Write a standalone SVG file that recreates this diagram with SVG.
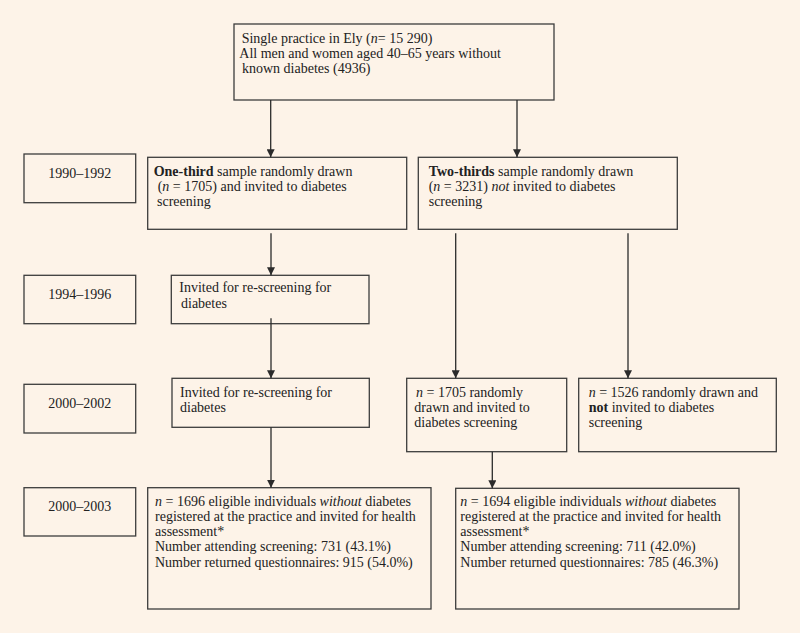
<svg xmlns="http://www.w3.org/2000/svg" width="800" height="633" viewBox="0 0 800 633">
<defs>
<marker id="ah" markerUnits="userSpaceOnUse" markerWidth="8" markerHeight="8" refX="8" refY="4" orient="auto">
<path d="M0,0 L8,4 L0,8 Z" fill="#2b2b2b"/>
</marker>
<style>
.box{fill:#fdf3e8;stroke:#3c3c3c;stroke-width:1.3}
.t{font-family:"Liberation Serif","Times New Roman",serif;font-size:14px;fill:#222}
.c{text-anchor:middle}
.conn line{stroke:#2b2b2b;stroke-width:1.3;marker-end:url(#ah)}
</style>
</defs>
<rect x="0" y="0" width="800" height="633" fill="#fdf3e8"/>

<g id="n-top">
<rect class="box" x="234" y="24" width="320" height="76"/>
<text class="t" x="241.7" y="43"><tspan>Single practice in Ely (</tspan><tspan font-style="italic">n</tspan><tspan>= 15 290)</tspan></text>
<text class="t" x="239.3" y="58">All men and women aged 40–65 years without</text>
<text class="t" x="242" y="73">known diabetes (4936)</text>
</g>

<g id="y-1990">
<rect class="box" x="24" y="154" width="111.7" height="48.7"/>
<text class="t c" x="79.8" y="177.5">1990–1992</text>
</g>

<g id="n-onethird">
<rect class="box" x="147.7" y="157.3" width="259" height="72"/>
<text class="t" x="153.7" y="175.7"><tspan font-weight="bold">One-third</tspan><tspan> sample randomly drawn</tspan></text>
<text class="t" x="157.7" y="190.7"><tspan>(</tspan><tspan font-style="italic">n</tspan><tspan> = 1705) and invited to diabetes</tspan></text>
<text class="t" x="157" y="205.7">screening</text>
</g>

<g id="n-twothirds">
<rect class="box" x="418.3" y="157.3" width="259" height="72"/>
<text class="t" x="428.7" y="175.7"><tspan font-weight="bold">Two-thirds</tspan><tspan> sample randomly drawn</tspan></text>
<text class="t" x="428.7" y="190.7"><tspan>(</tspan><tspan font-style="italic">n</tspan><tspan> = 3231) </tspan><tspan font-style="italic">not</tspan><tspan> invited to diabetes</tspan></text>
<text class="t" x="428.7" y="205.7">screening</text>
</g>

<g id="y-1994">
<rect class="box" x="24" y="275.3" width="111.7" height="48.4"/>
<text class="t c" x="79.8" y="298.7">1994–1996</text>
</g>

<g id="n-rescreen1">
<rect class="box" x="171.3" y="275.3" width="197.7" height="48.4"/>
<text class="t" x="179.3" y="292.3">Invited for re-screening for</text>
<text class="t" x="181" y="307.7">diabetes</text>
</g>

<g id="y-2000a">
<rect class="box" x="24" y="384.3" width="111.7" height="48.7"/>
<text class="t c" x="79.8" y="407.7">2000–2002</text>
</g>

<g id="n-rescreen2">
<rect class="box" x="172" y="378.3" width="197.3" height="49"/>
<text class="t" x="180" y="396.7">Invited for re-screening for</text>
<text class="t" x="180" y="411.7">diabetes</text>
</g>

<g id="n-1705">
<rect class="box" x="406.7" y="378.3" width="160" height="73.4"/>
<text class="t" x="416" y="396.7"><tspan font-style="italic">n</tspan><tspan> = 1705 randomly</tspan></text>
<text class="t" x="414.3" y="411.7">drawn and invited to</text>
<text class="t" x="414.3" y="426.7">diabetes screening</text>
</g>

<g id="n-1526">
<rect class="box" x="578.7" y="378.3" width="197.6" height="73.4"/>
<text class="t" x="588.7" y="396.7"><tspan font-style="italic">n</tspan><tspan> = 1526 randomly drawn and</tspan></text>
<text class="t" x="588.7" y="411.7"><tspan font-weight="bold">not</tspan><tspan> invited to diabetes</tspan></text>
<text class="t" x="588.7" y="426.7">screening</text>
</g>

<g id="y-2000b">
<rect class="box" x="24" y="487.7" width="111.7" height="48.3"/>
<text class="t c" x="79.8" y="510.7">2000–2003</text>
</g>

<g id="n-1696">
<rect class="box" x="147.7" y="487.7" width="283.3" height="121.3"/>
<text class="t" x="155" y="505.7"><tspan font-style="italic">n</tspan><tspan> = 1696 eligible individuals </tspan><tspan font-style="italic">without</tspan><tspan> diabetes</tspan></text>
<text class="t" x="155" y="520.7">registered at the practice and invited for health</text>
<text class="t" x="155" y="535.9">assessment*</text>
<text class="t" x="155" y="551.2">Number attending screening: 731 (43.1%)</text>
<text class="t" x="155" y="566.5">Number returned questionnaires: 915 (54.0%)</text>
</g>

<g id="n-1694">
<rect class="box" x="455.7" y="488.3" width="283.3" height="120.7"/>
<text class="t" x="460.3" y="505.5"><tspan font-style="italic">n</tspan><tspan> = 1694 eligible individuals </tspan><tspan font-style="italic">without</tspan><tspan> diabetes</tspan></text>
<text class="t" x="460.3" y="520.7">registered at the practice and invited for health</text>
<text class="t" x="460.3" y="535.9">assessment*</text>
<text class="t" x="460.3" y="551.2">Number attending screening: 711 (42.0%)</text>
<text class="t" x="460.3" y="566.5">Number returned questionnaires: 785 (46.3%)</text>
</g>

<g id="connectors" class="conn">
<line x1="270.7" y1="100" x2="270.7" y2="157.3"/>
<line x1="517" y1="100" x2="517" y2="157.3"/>
<line x1="271" y1="233.3" x2="271" y2="275.3"/>
<line x1="271" y1="318.3" x2="271" y2="378.3"/>
<line x1="271" y1="427.3" x2="271" y2="487.7"/>
<line x1="455.7" y1="233.3" x2="455.7" y2="378.3"/>
<line x1="628" y1="233.3" x2="628" y2="378.3"/>
<line x1="492.3" y1="451.7" x2="492.3" y2="488.3"/>
</g>
</svg>
